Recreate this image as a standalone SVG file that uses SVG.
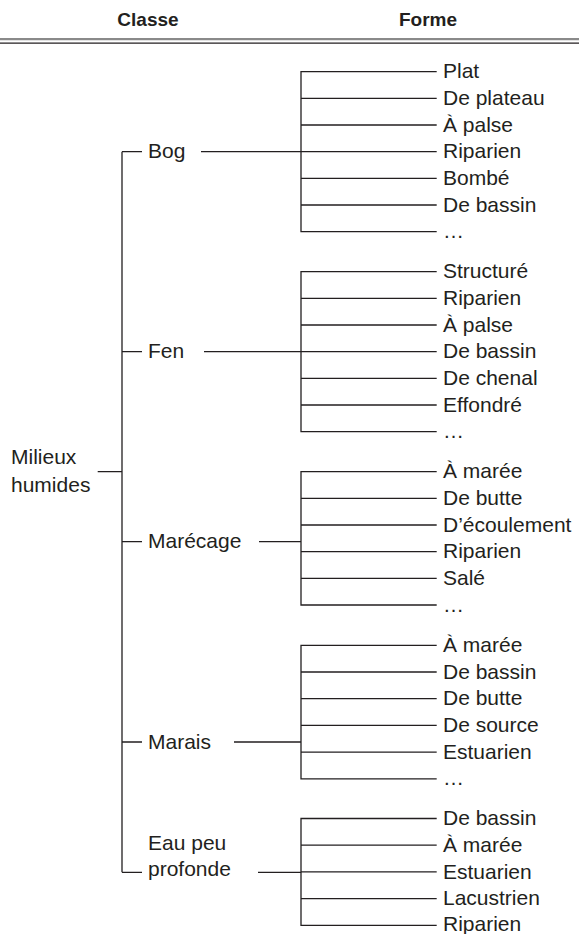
<svg xmlns="http://www.w3.org/2000/svg" width="579" height="934" viewBox="0 0 579 934">
<style>
text{font-family:"Liberation Sans",Arial,sans-serif;fill:#231f20;font-size:21px}
.h{font-weight:bold;font-size:19px;text-anchor:middle}
.c path{fill:none;stroke:#231f20;stroke-width:1.3}
</style>
<rect width="579" height="934" fill="#fff"/>
<g id="header">
<text class="h" x="148" y="26">Classe</text>
<text class="h" x="428" y="26">Forme</text>
<line x1="0" y1="39.2" x2="579" y2="39.2" stroke="#8a8a8a" stroke-width="2.2"/>
<line x1="0" y1="43.2" x2="579" y2="43.2" stroke="#231f20" stroke-width="1.3"/>
</g>
<g class="c" id="connectors">
<path d="M97.7 471.7H122M122 151.7V872.3M122 151.7H142M122 351.7H142M122 541.7H142M122 742H142M122 872.3H142"/>
<path d="M201 151.7H301M204 351.7H301M259 541.7H301M234 742H301M258 872.3H301"/>
<path d="M436.7 71.7H301V231.7H436.7M301 98.4H436.7M301 125H436.7M301 151.7H436.7M301 178.4H436.7M301 205H436.7"/>
<path d="M436.7 271.7H301V431.7H436.7M301 298.4H436.7M301 325H436.7M301 351.7H436.7M301 378.4H436.7M301 405H436.7"/>
<path d="M436.7 471.7H301V605H436.7M301 498.4H436.7M301 525H436.7M301 551.7H436.7M301 578.4H436.7"/>
<path d="M436.7 645.3H301V778.8H436.7M301 672H436.7M301 698.7H436.7M301 725.4H436.7M301 752.1H436.7"/>
<path d="M436.7 818.5H301V925.3H436.7M301 845.2H436.7M301 871.9H436.7M301 898.6H436.7"/>
</g>
<g id="root"><text x="11" y="464.3">Milieux</text><text x="11" y="491.7">humides</text></g>
<g id="bog"><text x="148" y="158.3">Bog</text></g>
<g id="fen"><text x="148" y="358.3">Fen</text></g>
<g id="marecage"><text x="148" y="548.3">Marécage</text></g>
<g id="marais"><text x="148" y="748.6">Marais</text></g>
<g id="eau"><text x="148" y="850.3">Eau peu</text><text x="148" y="876">profonde</text></g>
<g id="bog-forms">
<text x="443" y="78.3">Plat</text><text x="443" y="105">De plateau</text><text x="443" y="131.6">À palse</text><text x="443" y="158.3">Riparien</text><text x="443" y="185">Bombé</text><text x="443" y="211.6">De bassin</text><text x="443" y="238.3">…</text>
</g>
<g id="fen-forms">
<text x="443" y="278.3">Structuré</text><text x="443" y="305">Riparien</text><text x="443" y="331.6">À palse</text><text x="443" y="358.3">De bassin</text><text x="443" y="385">De chenal</text><text x="443" y="411.6">Effondré</text><text x="443" y="438.3">…</text>
</g>
<g id="marecage-forms">
<text x="443" y="478.3">À marée</text><text x="443" y="505">De butte</text><text x="443" y="531.6">D’écoulement</text><text x="443" y="558.3">Riparien</text><text x="443" y="585">Salé</text><text x="443" y="611.6">…</text>
</g>
<g id="marais-forms">
<text x="443" y="651.9">À marée</text><text x="443" y="678.6">De bassin</text><text x="443" y="705.3">De butte</text><text x="443" y="732">De source</text><text x="443" y="758.7">Estuarien</text><text x="443" y="785.4">…</text>
</g>
<g id="eau-forms">
<text x="443" y="825.1">De bassin</text><text x="443" y="851.8">À marée</text><text x="443" y="878.5">Estuarien</text><text x="443" y="905.2">Lacustrien</text><text x="443" y="930.5">Riparien</text>
</g>
</svg>
